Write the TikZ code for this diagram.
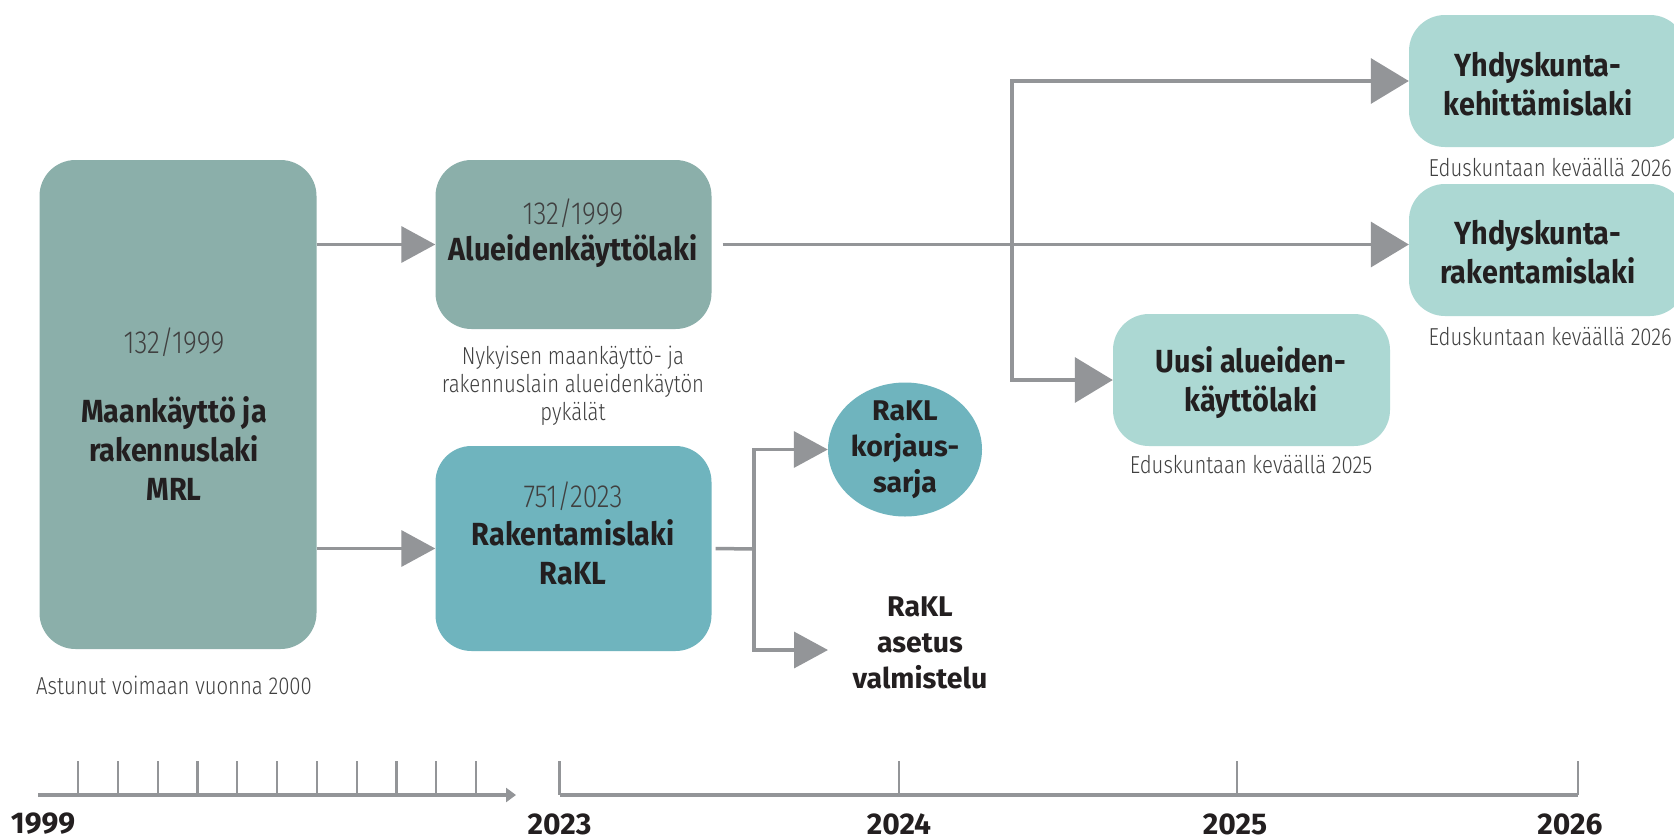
\documentclass[tikz,border=0pt]{standalone}
\usepackage{fontspec}
\setmainfont{Fira Sans}
\newfontfamily\condfont{Fira Sans}[FakeStretch=0.9]
\newfontfamily\lightfont{Fira Sans Light}[FakeStretch=0.83]
\usepackage{tikz}
\usetikzlibrary{arrows.meta,shapes.geometric}
\definecolor{boxgray}{HTML}{8BAFAA}
\definecolor{boxteal}{HTML}{6FB4BE}
\definecolor{boxlight}{HTML}{ACD8D3}
\definecolor{arrowgray}{HTML}{939598}
\definecolor{inkdark}{HTML}{231F20}
\definecolor{inkgray}{HTML}{404040}
\tikzset{
  lawbox/.style   = {rounded corners=36pt, inner sep=0pt},
  titletxt/.style = {font=\condfont\bfseries\fontsize{32}{39}\selectfont, text=inkdark, align=center},
  roundtxt/.style = {font=\bfseries\fontsize{28.5}{36}\selectfont, text=inkdark, align=center},
  numtxt/.style   = {font=\lightfont\fontsize{32}{36}\selectfont, text=inkgray},
  notetxt/.style  = {font=\lightfont\fontsize{24.5}{28}\selectfont, text=inkgray, align=center},
  yeartxt/.style  = {font=\bfseries\fontsize{30}{34}\selectfont, text=inkdark, inner sep=0pt},
  flowarr/.style  = {-{Triangle[length=34pt,width=36pt]}, line width=3.5pt, arrowgray},
  bigarr/.style   = {-{Triangle[length=38pt,width=45pt]}, line width=3.5pt, arrowgray},
  axisln/.style   = {line width=4.5pt, arrowgray},
  tickln/.style   = {line width=2.2pt, arrowgray}
}

\begin{document}
\begin{tikzpicture}[x=1pt,y=-1pt]
  \clip (0,0) rectangle (1674,839);
  \fill[white] (0,0) rectangle (1674,839);
  % --- the old law and its two successors ---------------------------------
  \node[lawbox, fill=boxgray, minimum width=277pt, minimum height=489pt] (mrl) at (178,404.5) {};
  \node[numtxt] (mrlnum) at (174,342) {132/1999};
  \node[titletxt] (mrltxt) at (174,449) {Maankäyttö ja\\rakennuslaki\\MRL};
  \node[notetxt] (mrlnote) at (174,685) {Astunut voimaan vuonna 2000};
  \node[lawbox, fill=boxgray, minimum width=276pt, minimum height=169pt] (alue) at (573.5,244.5) {};
  \node[numtxt] (aluenum) at (573,213) {132/1999};
  \node[titletxt] (aluetxt) at (573,251) {Alueidenkäyttölaki};
  \node[notetxt] (aluenote) at (573,386) {Nykyisen maankäyttö- ja\\rakennuslain alueidenkäytön\\pykälät};
  \node[lawbox, fill=boxteal, minimum width=276pt, minimum height=205pt] (rak) at (573.5,548.5) {};
  \node[numtxt] (raknum) at (573,496) {751/2023};
  \node[titletxt] (raktxt) at (573,552) {Rakentamislaki\\RaKL};
  \draw[flowarr] (mrl.east |- alue.west) -- (alue.west);
  \draw[flowarr] (mrl.east |- rak.west) -- (rak.west);
  % --- follow-up work on the building act -----------------------------------
  \node[ellipse, fill=boxteal, inner sep=0pt, minimum width=154pt, minimum height=134pt] (korj) at (905,449.5) {};
  \node[roundtxt] (korjtxt) at (905,450) {RaKL\\korjaus-\\sarja};
  \node[roundtxt] (asetus) at (920,643) {RaKL\\asetus\\valmistelu};
  \coordinate (rb) at (754,549);
  \coordinate (asetusin) at (828,650);
  \draw[line width=3.5pt, arrowgray] ([xshift=4pt]rak.east) -- (rb);
  \draw[flowarr] (rb) |- (korj.west);
  \draw[flowarr] (rb) |- (asetusin);
  % --- the land use act splits into three new laws -------------------------
  \node[lawbox, fill=boxlight, minimum width=277pt, minimum height=132pt] (uusi) at (1251.5,380) {};
  \node[titletxt] (uusitxt) at (1251,383) {Uusi alueiden-\\käyttölaki};
  \node[notetxt] (uusinote) at (1251,465) {Eduskuntaan keväällä 2025};
  \node[lawbox, fill=boxlight, minimum width=277pt, minimum height=132pt] (ykl) at (1547.5,81) {};
  \node[titletxt] (ykltxt) at (1538,84) {Yhdyskunta-\\kehittämislaki};
  \node[notetxt, anchor=east, inner sep=0pt] (yklnote) at (1672,168) {Eduskuntaan keväällä 2026};
  \node[lawbox, fill=boxlight, minimum width=277pt, minimum height=132pt] (yrl) at (1547.5,250) {};
  \node[titletxt] (yrltxt) at (1538,252) {Yhdyskunta-\\rakentamislaki};
  \node[notetxt, anchor=east, inner sep=0pt] (yrlnote) at (1672,337) {Eduskuntaan keväällä 2026};
  \coordinate (br) at (1012,245);
  \draw[bigarr] ([xshift=11pt]alue.east) -- (alue.east -| yrl.west);
  \draw[bigarr] (br) |- (ykl.west);
  \draw[bigarr] (br) |- (uusi.west);
  % --- time line ------------------------------------------------------------
  \draw[axisln, -{Triangle[length=10pt,width=14pt]}] (38,795) -- (516,795);
  \foreach \i in {0,...,10}
    \draw[tickln] ({78+\i*39.8},761) -- ({78+\i*39.8},795);
  \draw[axisln] (559.5,795) -- (1578,795);
  \foreach \tx in {559.5,899,1237,1578}
    \draw[tickln] (\tx,761) -- (\tx,795);
  \node[yeartxt] (y1999) at (43,824) {1999};
  \node[yeartxt] (y2023) at (559.5,824) {2023};
  \node[yeartxt] (y2024) at (899,824) {2024};
  \node[yeartxt] (y2025) at (1235,824) {2025};
  \node[yeartxt] (y2026) at (1570,824) {2026};
\end{tikzpicture}
\end{document}
